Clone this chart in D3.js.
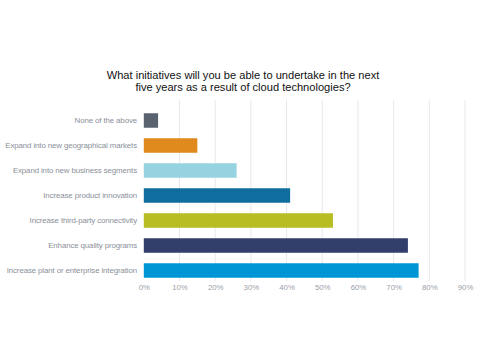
<!DOCTYPE html>
<html>
<head>
<meta charset="utf-8">
<script src="https://cdn.jsdelivr.net/npm/d3@7"></script>
<style>
  html, body { margin: 0; padding: 0; background: #fff; }
  svg { display: block; font-family: "Liberation Sans", Arial, sans-serif; }
</style>
</head>
<body>
<svg id="chart" width="485" height="350"></svg>
<script>
// Survey answers, top to bottom as drawn
const categories = [
  "None of the above",
  "Expand into new geographical markets",
  "Expand into new business segments",
  "Increase product innovation",
  "Increase third-party connectivity",
  "Enhance quality programs",
  "Increase plant or enterprise integration"
];
const values = [4, 15, 26, 41, 53, 74, 77];
const barColors = ["#59636f", "#e0891c", "#96d3e1", "#0f6e9d", "#b7bd22", "#313f6a", "#0096d5"];
const tickValues = [0, 10, 20, 30, 40, 50, 60, 70, 80, 90];
const titleLines = [
  "What initiatives will you be able to undertake in the next",
  "five years as a result of cloud technologies?"
];

const svg = d3.select("#chart");

const x = d3.scaleLinear().domain([0, 90]).range([143.8, 465]);
const y = d3.scaleBand().domain(categories).range([103, 288])
  .paddingInner(0.42).paddingOuter(0.41);

// Title
svg.append("text")
  .attr("x", 243).attr("y", 78.5)
  .attr("text-anchor", "middle")
  .attr("font-size", 11.1)
  .attr("fill", "#111")
  .selectAll("tspan").data(titleLines).join("tspan")
  .attr("x", 243).attr("dy", (d, i) => i ? 12.3 : 0)
  .text(d => d);

// Vertical gridlines
svg.append("g")
  .selectAll("line").data(tickValues.slice(1)).join("line")
  .attr("x1", d => x(d)).attr("x2", d => x(d))
  .attr("y1", 100).attr("y2", 281)
  .attr("stroke", "#e6e8eb").attr("stroke-width", 1);

// Bars
svg.append("g")
  .selectAll("rect").data(categories).join("rect")
  .attr("x", x(0))
  .attr("y", d => y(d))
  .attr("width", (d, i) => x(values[i]) - x(0))
  .attr("height", y.bandwidth())
  .attr("fill", (d, i) => barColors[i]);

// Category labels
const yAxis = d3.axisLeft(y).tickSize(0).tickPadding(0);
const gy = svg.append("g").attr("transform", "translate(137,0)").call(yAxis);
gy.select(".domain").remove();
gy.selectAll("text")
  .attr("font-family", "Liberation Sans, Arial, sans-serif")
  .attr("font-size", 7.9)
  .attr("letter-spacing", -0.12)
  .attr("fill", "#8b9099");

// Percentage axis
const xAxis = d3.axisBottom(x).tickValues(tickValues).tickSize(0).tickPadding(0)
  .tickFormat(d => d + "%");
const gx = svg.append("g").attr("transform", "translate(0,284)").call(xAxis);
gx.select(".domain").remove();
gx.selectAll("text")
  .attr("font-family", "Liberation Sans, Arial, sans-serif")
  .attr("font-size", 7.8)
  .attr("fill", "#9ba0a9");
</script>
</body>
</html>
